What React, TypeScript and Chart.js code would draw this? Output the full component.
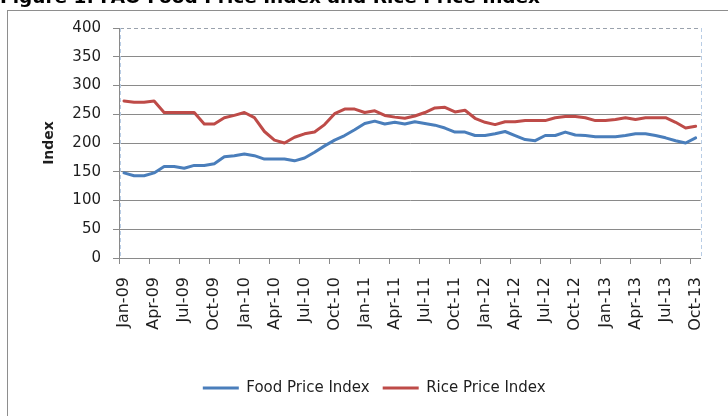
import React, { useEffect, useRef } from "react";
import { Chart, registerables } from "chart.js";

Chart.register(...registerables);

const months = [
  "Jan-09", "Feb-09", "Mar-09", "Apr-09", "May-09", "Jun-09", "Jul-09", "Aug-09", "Sep-09", "Oct-09", "Nov-09", "Dec-09",
  "Jan-10", "Feb-10", "Mar-10", "Apr-10", "May-10", "Jun-10", "Jul-10", "Aug-10", "Sep-10", "Oct-10", "Nov-10", "Dec-10",
  "Jan-11", "Feb-11", "Mar-11", "Apr-11", "May-11", "Jun-11", "Jul-11", "Aug-11", "Sep-11", "Oct-11", "Nov-11", "Dec-11",
  "Jan-12", "Feb-12", "Mar-12", "Apr-12", "May-12", "Jun-12", "Jul-12", "Aug-12", "Sep-12", "Oct-12", "Nov-12", "Dec-12",
  "Jan-13", "Feb-13", "Mar-13", "Apr-13", "May-13", "Jun-13", "Jul-13", "Aug-13", "Sep-13", "Oct-13",
];

const foodPriceIndex = [
  148, 143, 143, 148, 159, 159, 156, 161, 161, 164, 176, 178,
  181, 178, 172, 172, 172, 169, 174, 184, 195, 205, 213, 223,
  234, 238, 233, 236, 233, 237, 234, 231, 226, 219, 219, 213,
  213, 216, 220, 213, 206, 204, 213, 213, 219, 214, 213, 211,
  211, 211, 213, 216, 216, 213, 209, 204, 200, 209,
];

const ricePriceIndex = [
  273, 271, 271, 273, 253, 253, 253, 253, 233, 233, 244, 248,
  253, 244, 220, 205, 200, 210, 216, 219, 232, 251, 259, 259,
  253, 256, 248, 245, 243, 247, 253, 261, 262, 254, 257, 243,
  236, 232, 237, 237, 239, 239, 239, 244, 246, 246, 244, 239,
  239, 241, 244, 241, 244, 244, 244, 236, 226, 229,
];

const seriesNames = ["Food Price Index", "Rice Price Index"];
const yAxisTitle = "Index";
const chartTitle = "Figure 1: FAO Food Price Index and Rice Price Index";
const yMin = 0;
const yMax = 400;
const yStep = 50;
const labelEvery = 3;

const FONT = "'DejaVu Sans', sans-serif";
const TEXT = "#1e1e1e";
const GRID = "#8a8a8a";
const BLUE = "#4a7ebb";
const RED = "#be4b48";

const framePlugin = {
  id: "frame",
  beforeDraw(chart: any) {
    const ctx = chart.ctx;
    ctx.save();
    ctx.strokeStyle = "#8e8e8e";
    ctx.lineWidth = 1;
    ctx.strokeRect(7.5, 10.5, 800, 500);
    ctx.restore();
  },
  afterDatasetsDraw(chart: any) {
    const { ctx, chartArea } = chart;
    ctx.save();
    ctx.strokeStyle = "#b9cde5";
    ctx.lineWidth = 1;
    ctx.setLineDash([4, 3]);
    ctx.beginPath();
    const rx = Math.round(chartArea.right) + 0.5;
    ctx.moveTo(rx, chartArea.top);
    ctx.lineTo(rx, chartArea.bottom);
    const lx = Math.round(chartArea.left) + 1.5;
    ctx.moveTo(lx, chartArea.top);
    ctx.lineTo(lx, chartArea.bottom);
    ctx.stroke();
    ctx.restore();
  },
};

export default function App() {
  const canvasRef = useRef<HTMLCanvasElement | null>(null);

  useEffect(() => {
    const canvas = canvasRef.current;
    if (!canvas) return;
    const chart = new Chart(canvas, {
      type: "line",
      data: {
        labels: months,
        datasets: [
          {
            label: seriesNames[0],
            data: foodPriceIndex,
            borderColor: BLUE,
            backgroundColor: BLUE,
            borderWidth: 3,
            pointRadius: 0,
            pointHoverRadius: 0,
            tension: 0,
            borderJoinStyle: "round",
            borderCapStyle: "round",
            fill: false,
          },
          {
            label: seriesNames[1],
            data: ricePriceIndex,
            borderColor: RED,
            backgroundColor: RED,
            borderWidth: 3,
            pointRadius: 0,
            pointHoverRadius: 0,
            tension: 0,
            borderJoinStyle: "round",
            borderCapStyle: "round",
            fill: false,
          },
        ],
      },
      options: {
        responsive: false,
        animation: false,
        devicePixelRatio: 1,
        events: [],
        layout: { padding: { left: 37.5, top: 28, right: 17, bottom: 10.5 } },
        plugins: {
          legend: {
            position: "bottom",
            labels: {
              usePointStyle: true,
              pointStyle: "line",
              pointStyleWidth: 36,
              padding: 13,
              color: TEXT,
              font: { family: FONT, size: 15 },
            },
          },
          tooltip: { enabled: false },
          title: { display: false },
        },
        scales: {
          x: {
            type: "category",
            offset: true,
            grid: {
              offset: true,
              drawOnChartArea: false,
              drawTicks: true,
              tickLength: 6,
              tickWidth: 1,
              tickColor: (c: any) =>
                typeof c.index === "number" && c.index % labelEvery === 0 ? GRID : "rgba(0,0,0,0)",
            },
            border: { display: true, color: GRID, width: 1 },
            ticks: {
              autoSkip: false,
              minRotation: 90,
              maxRotation: 90,
              padding: 13,
              color: TEXT,
              font: { family: FONT, size: 16 },
              callback: (_v: any, i: number) => (i % labelEvery === 0 ? months[i] : ""),
            },
            afterFit: (s: any) => {
              s.height = 109.5;
            },
          },
          y: {
            min: yMin,
            max: yMax,
            ticks: {
              stepSize: yStep,
              padding: 12,
              color: TEXT,
              font: { family: FONT, size: 15 },
            },
            grid: {
              color: (c: any) => (c.tick && c.tick.value === yMax ? "#9aa2ad" : GRID),
              lineWidth: 1,
              drawTicks: true,
              tickLength: 6,
              tickColor: GRID,
            },
            border: {
              display: true,
              color: GRID,
              width: 1,
              dash: (c: any) => (c.tick && c.tick.value === yMax ? [4, 3] : []),
            },
            title: {
              display: true,
              text: yAxisTitle,
              color: TEXT,
              font: { family: FONT, size: 14, weight: "bold" },
              padding: { top: 3, bottom: 0 },
            },
            afterFit: (s: any) => {
              s.width = 81.5;
            },
          },
        },
      },
      plugins: [framePlugin],
    } as any);
    return () => chart.destroy();
  }, []);

  return (
    <div
      style={{
        position: "fixed",
        left: 0,
        top: 0,
        width: 728,
        height: 416,
        overflow: "hidden",
        background: "#ffffff",
      }}
    >
      <canvas
        ref={canvasRef}
        width={728}
        height={416}
        style={{ position: "absolute", left: 0, top: 0, width: 728, height: 416 }}
      />
      <div
        style={{
          position: "absolute",
          left: 0,
          top: -12,
          whiteSpace: "nowrap",
          fontFamily: FONT,
          fontWeight: "bold",
          fontSize: 18.5,
          lineHeight: "18.5px",
          color: "#000",
        }}
      >
        {chartTitle}
      </div>
    </div>
  );
}
